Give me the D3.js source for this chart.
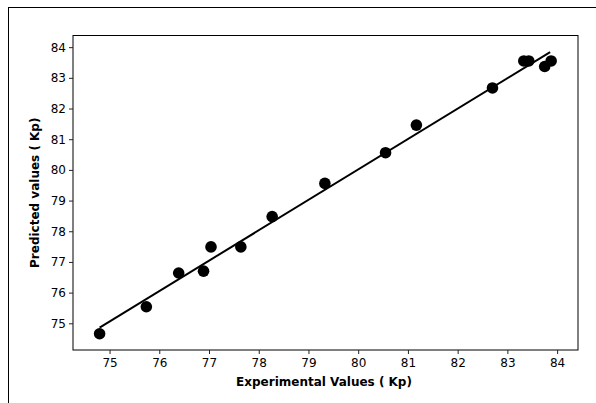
<!DOCTYPE html>
<html>
<head>
<meta charset="utf-8">
<script src="https://cdn.jsdelivr.net/npm/d3@7"></script>
<style>
  body { margin: 0; background: #fff; }
  svg text { font-family: "DejaVu Sans", sans-serif; fill: #000; }
</style>
</head>
<body>
<div id="chart"></div>
<script>
var width = 596,
    height = 403;

// experimental vs predicted (Kp)
var experimental = [74.8, 75.74, 76.39, 76.89, 77.04, 77.64, 78.27, 79.33, 80.55, 81.17, 82.7, 83.33, 83.43, 83.75, 83.88];
var predicted    = [74.66, 75.54, 76.64, 76.7, 77.49, 77.49, 78.48, 79.56, 80.56, 81.46, 82.67, 83.55, 83.55, 83.37, 83.55];

// fitted line ends
var fitX = [74.8, 83.86];
var fitY = [74.86, 83.84];

var xTicks = [75, 76, 77, 78, 79, 80, 81, 82, 83, 84];
var yTicks = [75, 76, 77, 78, 79, 80, 81, 82, 83, 84];

var plot = { left: 73, top: 35.5, right: 578, bottom: 350 };

var x = d3.scaleLinear()
    .domain([74.265, 84.42])
    .range([plot.left, plot.right]);

var y = d3.scaleLinear()
    .domain([74.13, 84.38])
    .range([plot.bottom, plot.top]);

var svg = d3.select("#chart").append("svg")
    .attr("width", width)
    .attr("height", height);

// outer frame (cut by the picture edge)
svg.append("rect")
    .attr("x", 8.5).attr("y", 7.5)
    .attr("width", 600).attr("height", 420)
    .attr("fill", "none")
    .attr("stroke", "#000")
    .attr("stroke-width", 1);

// plot frame
svg.append("rect")
    .attr("x", plot.left).attr("y", plot.top)
    .attr("width", plot.right - plot.left)
    .attr("height", plot.bottom - plot.top)
    .attr("fill", "none")
    .attr("stroke", "#000");

var xAxis = svg.append("g")
    .attr("transform", "translate(0," + plot.bottom + ")")
    .call(d3.axisBottom(x).tickValues(xTicks).tickSize(4).tickPadding(4).tickFormat(d3.format("d")));

var yAxis = svg.append("g")
    .attr("transform", "translate(" + plot.left + ",0)")
    .call(d3.axisLeft(y).tickValues(yTicks).tickSize(4).tickPadding(3).tickFormat(d3.format("d")));

[xAxis, yAxis].forEach(function(a) {
  a.select(".domain").remove();
  a.selectAll("line").attr("stroke", "#222");
  a.selectAll("text").attr("font-size", "12px").attr("font-family", "DejaVu Sans").attr("fill", "#111");
});

// fitted line
svg.append("line")
    .attr("x1", x(fitX[0])).attr("y1", y(fitY[0]))
    .attr("x2", x(fitX[1])).attr("y2", y(fitY[1]))
    .attr("stroke", "#000")
    .attr("stroke-width", 2);

svg.selectAll("circle.pt")
    .data(experimental)
    .enter()
      .append("circle")
      .attr("class", "pt")
      .attr("cx", function(d) { return x(d); })
      .attr("cy", function(d, i) { return y(predicted[i]); })
      .attr("r", 5.8)
      .attr("fill", "#000");

svg.append("text")
    .attr("x", 324)
    .attr("y", 386)
    .attr("text-anchor", "middle")
    .attr("font-size", "12px")
    .attr("font-weight", "bold")
    .text("Experimental Values ( Kp)");

svg.append("text")
    .attr("transform", "translate(39," + ((plot.top + plot.bottom) / 2) + ") rotate(-90)")
    .attr("text-anchor", "middle")
    .attr("font-size", "12px")
    .attr("font-weight", "bold")
    .text("Predicted values ( Kp)");
</script>
</body>
</html>
